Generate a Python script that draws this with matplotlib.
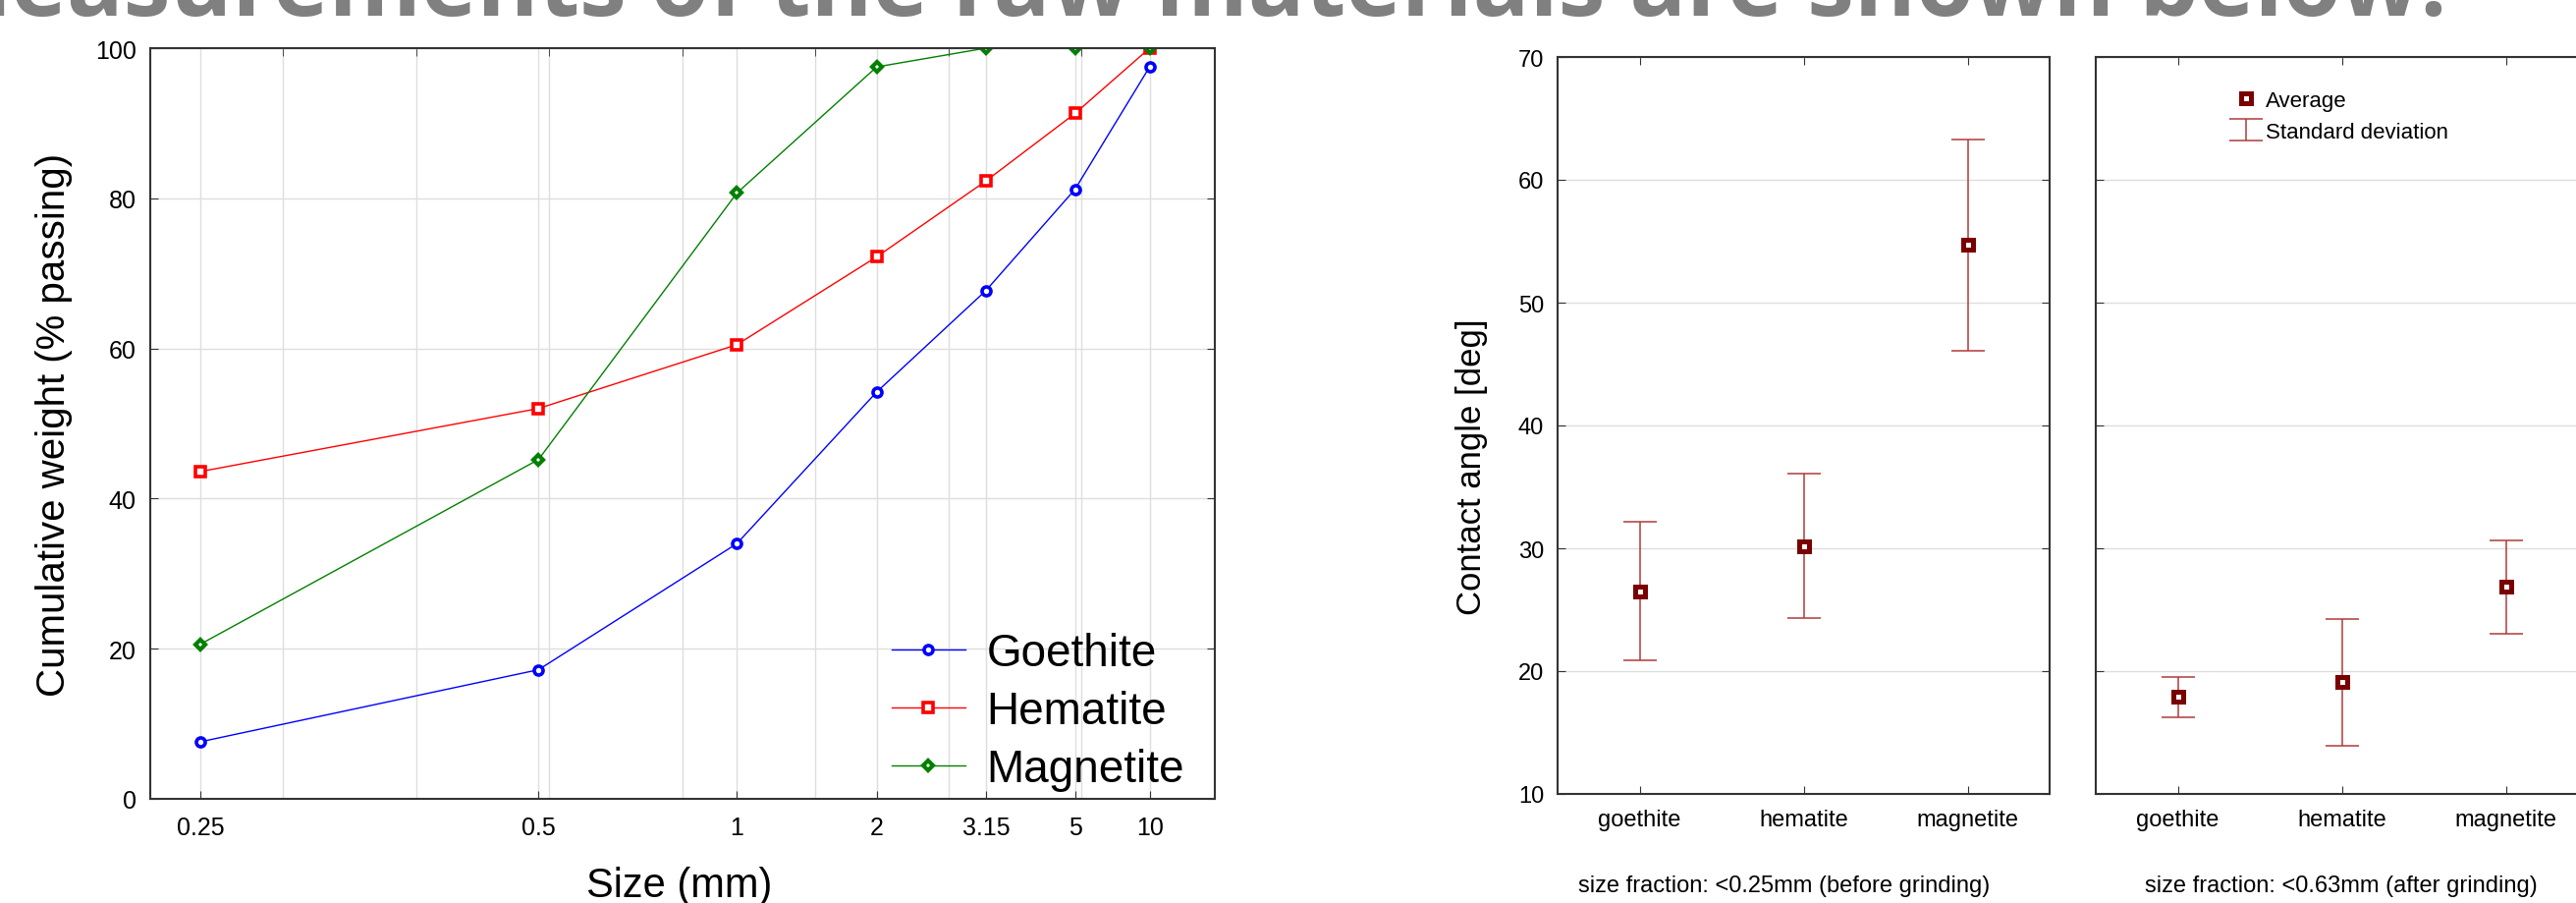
import numpy as np
import matplotlib
matplotlib.use('Agg')
import matplotlib.pyplot as plt

plt.rcParams['font.family'] = ['Liberation Sans', 'DejaVu Sans']

# sieve sizes (mm) and where each one sits on the chart's linear x axis (0..8)
sizes = ['0.25', '0.5', '1', '2', '3.15', '5', '10']
size_axis = [0.38, 2.92, 4.41, 5.46, 6.28, 6.95, 7.51]

# cumulative weight, % passing
goethite = [7.6, 17.2, 34.0, 54.2, 67.7, 81.2, 97.5]
hematite = [43.6, 52.0, 60.5, 72.2, 82.3, 91.3, 100.0]
magnetite = [20.6, 45.2, 80.7, 97.5, 100.0, 100.0, 100.0]

# contact angle [deg], average and standard deviation
minerals = ['goethite', 'hematite', 'magnetite']
angle_before = [26.5, 30.2, 54.7]
sd_before = [5.65, 5.9, 8.6]
angle_after = [17.9, 19.1, 26.85]
sd_after = [1.65, 5.15, 3.8]

spine_col = '#333333'
grid_col = '#dedede'

fig = plt.figure(figsize=(26.23, 9.2), dpi=100)

fig.text(2492 / 2623, 1 - 16 / 920, 'measurements of the raw materials are shown below:',
         ha='right', va='baseline', fontsize=69, fontweight='bold',
         family=['Open Sans', 'DejaVu Sans'], color='#808080')

# ---- left: particle size distribution ----
ax1 = fig.add_axes([152.5 / 2623, 106 / 920, 1084.5 / 2623, 764 / 920])
ax1.plot(size_axis, goethite, color='#0000ff', lw=1, marker='o', ms=6.5, mfc='white', mew=2.6, label='Goethite')
ax1.plot(size_axis, hematite, color='#ff0000', lw=1, marker='s', ms=6.5, mfc='white', mew=2.6, label='Hematite')
ax1.plot(size_axis, magnetite, color='#008000', lw=1, marker='D', ms=5.5, mfc='white', mew=3, label='Magnetite')

ax1.set_xlim(0, 8)
ax1.set_ylim(0, 100)
ax1.set_xticks(size_axis, sizes)
ax1.set_xticks(range(1, 8), minor=True)
ax1.set_yticks(range(0, 101, 20))
ax1.grid(True, axis='x', which='both', color=grid_col, lw=1)
ax1.grid(True, axis='y', which='major', color=grid_col, lw=1)
ax1.set_axisbelow(True)
ax1.tick_params(axis='x', which='major', direction='in', bottom=True, top=False,
                length=6, labelsize=18, pad=12, color=spine_col)
ax1.tick_params(axis='x', which='minor', direction='in', bottom=False, top=True,
                length=6, color=spine_col)
ax1.tick_params(axis='y', direction='in', left=True, right=True, length=6,
                labelsize=18, pad=10, color=spine_col)
for s in ax1.spines.values():
    s.set_color(spine_col)
    s.set_linewidth(1.5)

ax1.set_ylabel('Cumulative weight (% passing)', fontsize=29, va='center', ha='center')
ax1.yaxis.set_label_coords(-0.0899, 0.5)
ax1.set_xlabel('Size (mm)', fontsize=30, va='baseline', ha='center')
ax1.xaxis.set_label_coords(0.497, -0.1296)

ax1.legend(loc='lower left', bbox_to_anchor=(0.692, 0.005), frameon=False,
           fontsize=33, handlelength=1.65, handletextpad=0.46, labelspacing=0.32,
           borderpad=0.1, borderaxespad=0, numpoints=1)

# ---- right: contact angle before / after grinding ----
bar_col = '#b03a3a'
mark_col = '#7a0000'
panels = [
    (1586, angle_before, sd_before, 'size fraction: <0.25mm (before grinding)', 0.461),
    (2134, angle_after, sd_after, 'size fraction: <0.63mm (after grinding)', 0.4986),
]
xpos = np.arange(len(minerals))
axes = []
for left_px, means, sds, xlab, xlab_x in panels:
    ax = fig.add_axes([left_px / 2623, 111 / 920, 501 / 2623, 750 / 920])
    ax.errorbar(xpos, means, yerr=sds, fmt='none', ecolor=bar_col, elinewidth=1.1,
                capsize=12, capthick=1.1, label='Standard deviation')
    ax.plot(xpos, means, ls='none', marker='s', ms=6.5, mfc='white', mec=mark_col,
            mew=3.6, label='Average')
    ax.set_xlim(-0.5, 2.5)
    ax.set_ylim(10, 70)
    ax.set_xticks(xpos, minerals)
    ax.set_yticks(range(10, 71, 10))
    ax.grid(True, axis='y', color=grid_col, lw=1)
    ax.set_axisbelow(True)
    ax.tick_params(direction='in', top=True, right=True, length=6, labelsize=17,
                   color=spine_col)
    ax.tick_params(axis='x', pad=11)
    ax.tick_params(axis='y', pad=10)
    for s in ax.spines.values():
        s.set_color(spine_col)
        s.set_linewidth(1.5)
    ax.set_xlabel(xlab, fontsize=17, va='center', ha='center')
    ax.xaxis.set_label_coords(xlab_x, -0.124)
    axes.append(ax)

ax2, ax3 = axes
ax2.set_ylabel('Contact angle [deg]', fontsize=25, va='center', ha='center')
ax2.yaxis.set_label_coords(-0.1756, 0.445)
ax3.tick_params(labelleft=False)

handles = dict(zip(*ax3.get_legend_handles_labels()[::-1]))
order = ['Average', 'Standard deviation']
ax3.legend([handles[k] for k in order], order, loc='upper left', bbox_to_anchor=(0.261, 0.967),
           frameon=False, fontsize=16, handlelength=1.2, handletextpad=0.3,
           labelspacing=0.5, borderaxespad=0, numpoints=1)

fig.savefig('out.png', dpi=100)
